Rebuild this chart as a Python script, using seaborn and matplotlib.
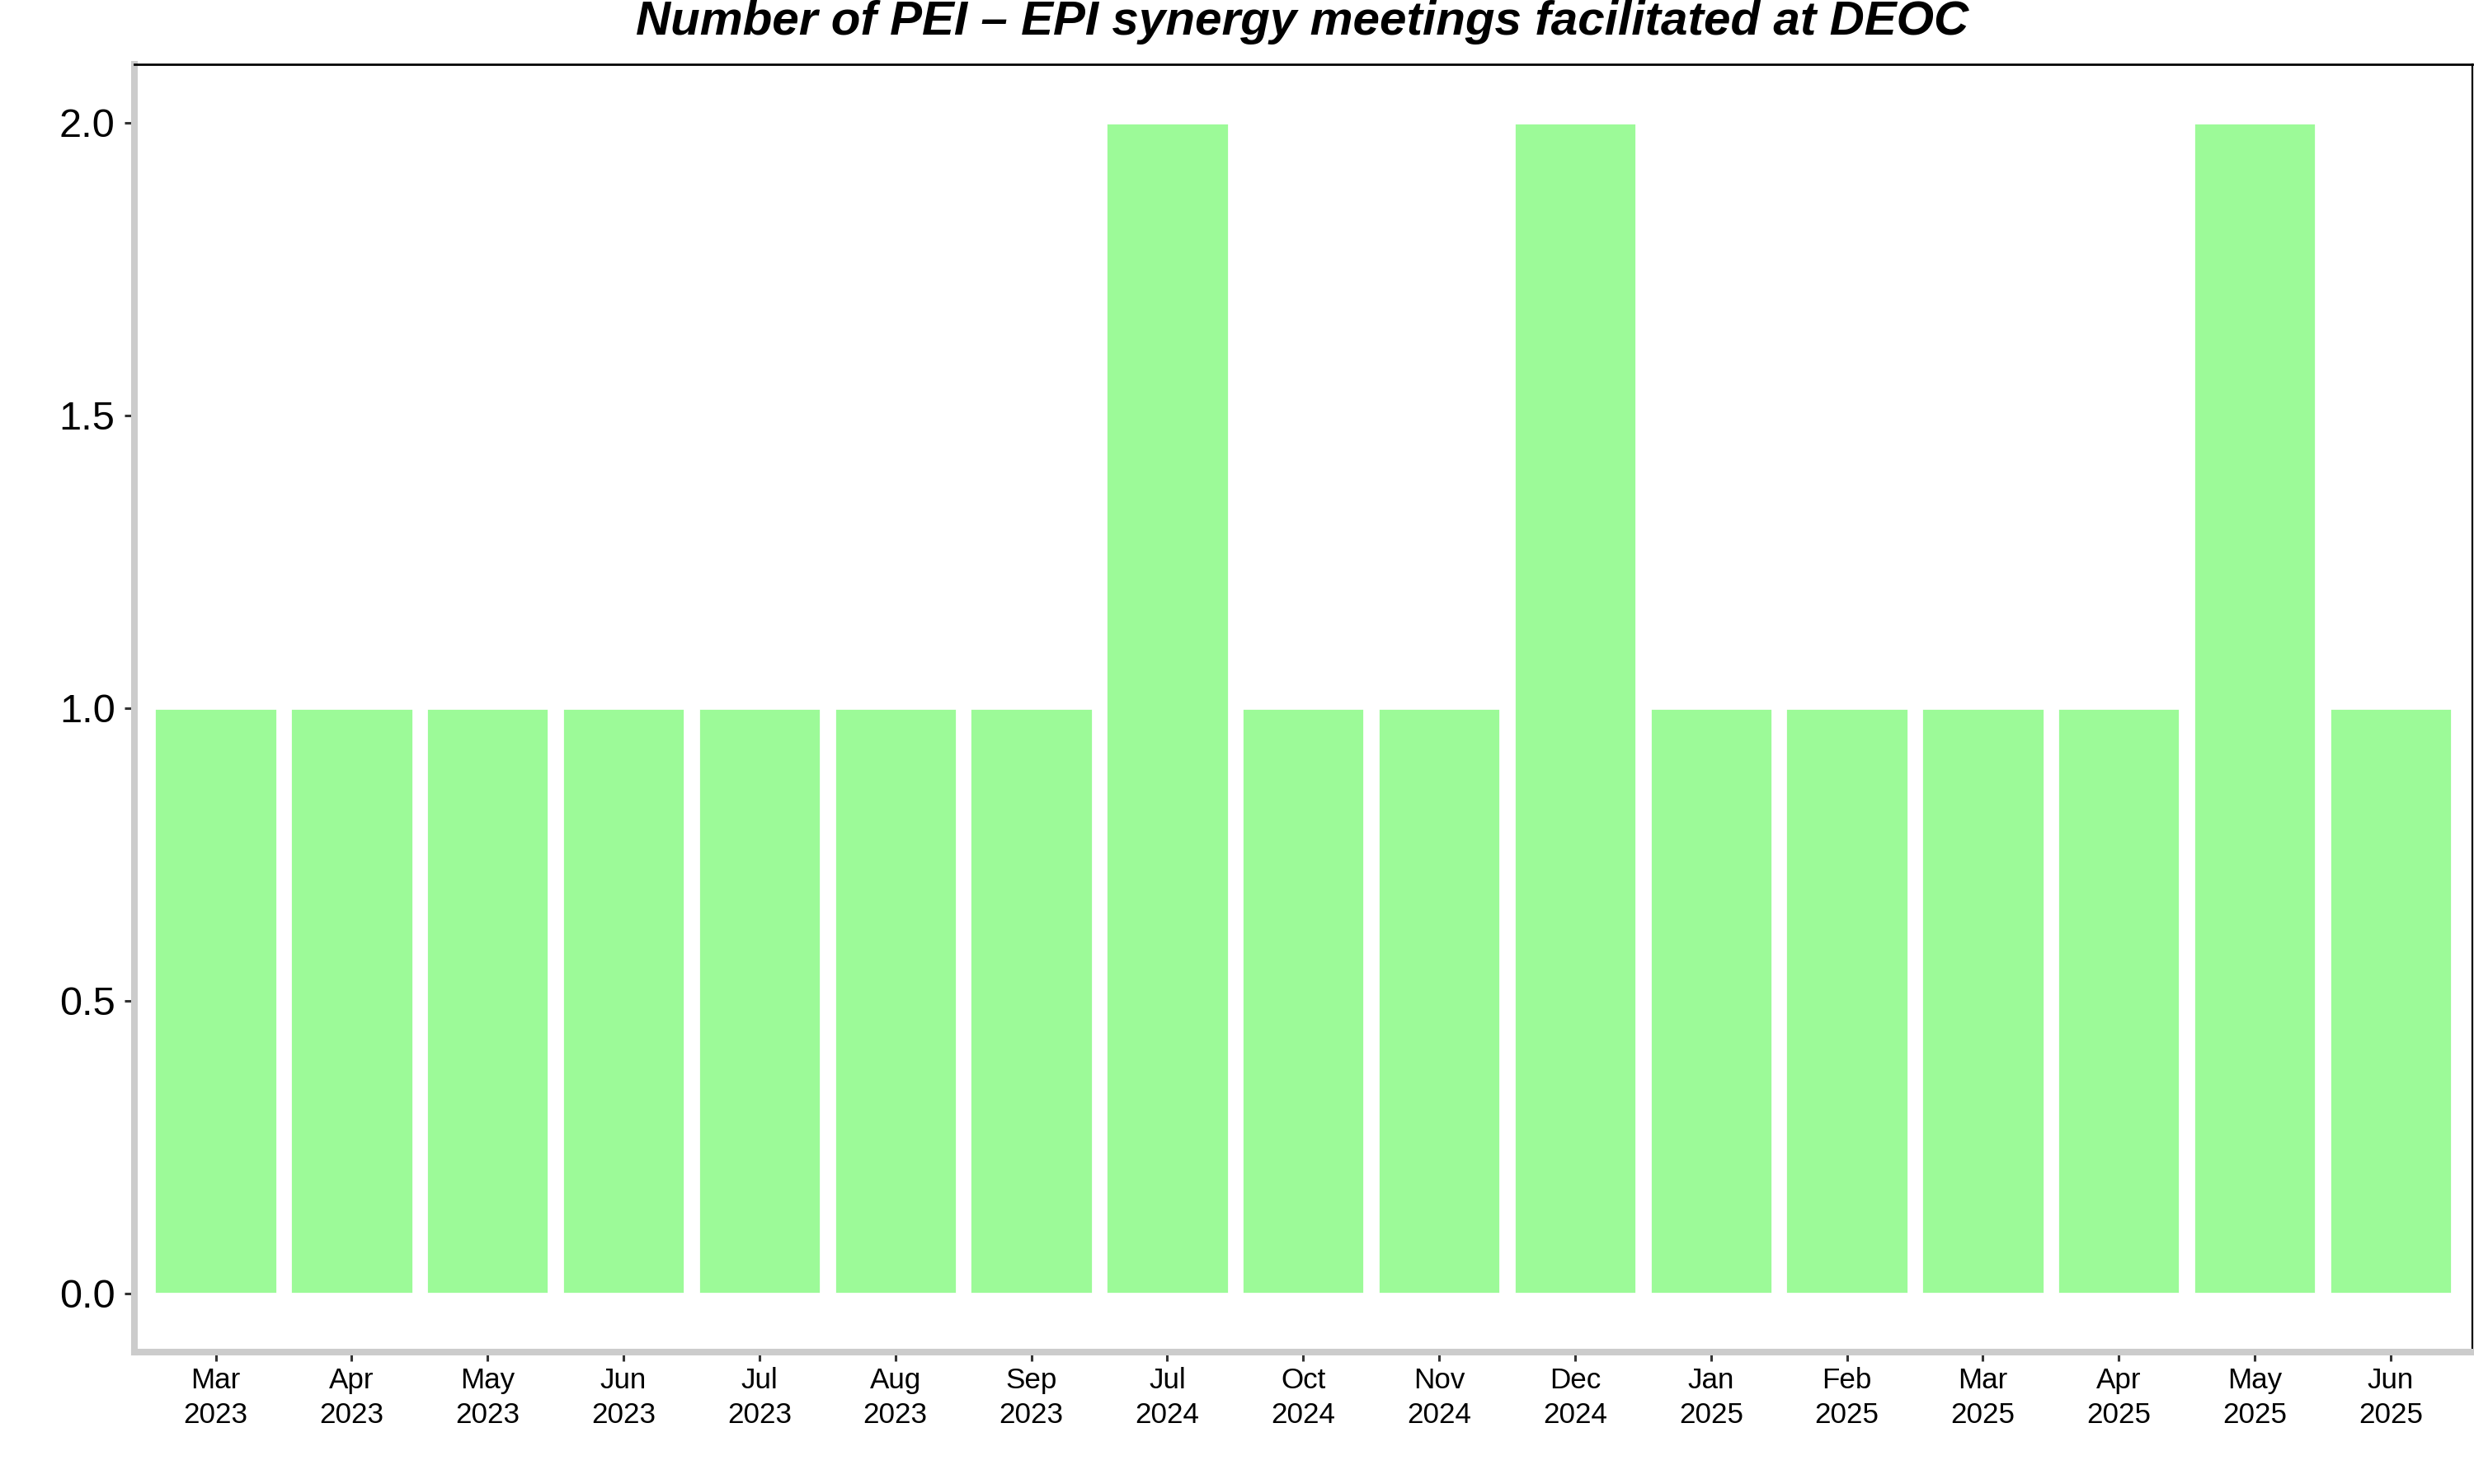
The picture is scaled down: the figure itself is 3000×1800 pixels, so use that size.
"""
Bar chart: PEI - EPI synergy meetings facilitated at DEOC, by month
"""
import matplotlib
matplotlib.use('Agg')
import matplotlib.pyplot as plt
import pandas as pd
import seaborn as sns


# Data
months = ['Mar', 'Apr', 'May', 'Jun', 'Jul', 'Aug', 'Sep', 'Jul', 'Oct',
          'Nov', 'Dec', 'Jan', 'Feb', 'Mar', 'Apr', 'May', 'Jun']
years = ['2023', '2023', '2023', '2023', '2023', '2023', '2023', '2024', '2024',
         '2024', '2024', '2025', '2025', '2025', '2025', '2025', '2025']
meetings = [1, 1, 1, 1, 1, 1, 1, 2, 1, 1, 2, 1, 1, 1, 1, 2, 1]
y_ticks = [0.0, 0.5, 1.0, 1.5, 2.0]

title = 'Number of PEI \u2013 EPI synergy meetings facilitated at DEOC'

df = pd.DataFrame({
    'period': [f'{m}\n{y}' for m, y in zip(months, years)],
    'meetings': meetings,
})

sns.set_style('white')
plt.rcParams['font.family'] = ['Liberation Sans', 'DejaVu Sans']
plt.rcParams['text.color'] = 'black'

fig = plt.figure(figsize=(15, 9), dpi=200)
ax = fig.add_axes([0.0542, 0.0889, 0.9451, 0.8678])

sns.barplot(
    data=df,
    x='period',
    y='meetings',
    order=df['period'],
    color='#9CFA98',
    saturation=1,
    width=0.9,
    errorbar=None,
    ax=ax,
)

ax.set_xlim(-0.6, len(df) - 0.4)
ax.set_ylim(-0.1, 2.1)
ax.set_yticks(y_ticks)
ax.set_yticklabels([f'{v:.1f}' for v in y_ticks])
ax.set_xlabel('')
ax.set_ylabel('')

# Axis styling
ax.tick_params(axis='y', left=True, labelsize=17.5, length=4.3, width=1.1,
               color='#333333', pad=4.0, labelcolor='black')
ax.tick_params(axis='x', bottom=True, labelsize=12.6, length=4.0, width=1.1,
               color='#333333', pad=2.5, labelcolor='black')
for lbl in ax.get_xticklabels():
    lbl.set_linespacing(1.35)

for side in ['left', 'bottom']:
    ax.spines[side].set_color('#CCCCCC')
    ax.spines[side].set_linewidth(2.9)
    ax.spines[side].set_capstyle('projecting')
ax.spines['top'].set_color('black')
ax.spines['top'].set_linewidth(1.0)
ax.spines['right'].set_color('black')
ax.spines['right'].set_linewidth(0.8)

fig.text(0.5265, 1 - 42 / 1800, title, ha='center', va='baseline',
         fontsize=21, fontweight='bold', fontstyle='italic', color='black')

fig.savefig('out.png', dpi=200)
plt.close(fig)
